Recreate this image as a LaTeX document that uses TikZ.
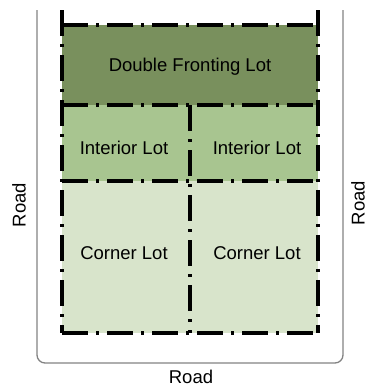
\documentclass[tikz,border=0pt]{standalone}
\usepackage{fontspec}
\setmainfont{Liberation Sans}
\definecolor{doublelot}{RGB}{121,144,93}
\definecolor{interiorlot}{RGB}{168,197,144}
\definecolor{cornerlot}{RGB}{216,228,203}
\definecolor{roadline}{RGB}{130,130,130}
\begin{document}
\begin{tikzpicture}[x=1pt, y=-1pt,
	lotline/.style={line width=3.2pt, dash pattern=on 26pt off 8pt on 3pt off 8pt},
	lotlabel/.style={font=\fontsize{18.5}{22}\selectfont}]
	\useasboundingbox (0,0) rectangle (368,388); % Explicit bounding box
	\draw [roadline, line width=1.3pt, rounded corners=8pt] (37,10) -- (37,363) -- (343,363) -- (343,10);
	\fill [doublelot] (62,25) rectangle (318,105);
	\fill [interiorlot] (62,105) rectangle (318,181);
	\fill [cornerlot] (62,181) rectangle (318,333);
	\draw [lotline] (62,25) -- (318,25);
	\draw [lotline] (62,105) -- (318,105);
	\draw [lotline] (62,181) -- (318,181);
	\draw [lotline] (62,333) -- (318,333);
	\draw [lotline] (62,10) -- (62,333);
	\draw [lotline] (318,10) -- (318,333);
	\draw [lotline] (190,105) -- (190,333);
	\node [lotlabel] (double) at (190,67) {Double Fronting Lot};
	\node [lotlabel] (interiorL) at (124,148) {Interior Lot};
	\node [lotlabel] (interiorR) at (257,148) {Interior Lot};
	\node [lotlabel] (cornerL) at (124,253) {Corner Lot};
	\node [lotlabel] (cornerR) at (257,253) {Corner Lot};
	\node [lotlabel, rotate=90, inner sep=0pt] (roadL) at (19,205) {Road};
	\node [lotlabel, rotate=90, inner sep=0pt] (roadR) at (358,203) {Road};
	\node [lotlabel] (roadB) at (191,377) {Road};
\end{tikzpicture}
\end{document}
